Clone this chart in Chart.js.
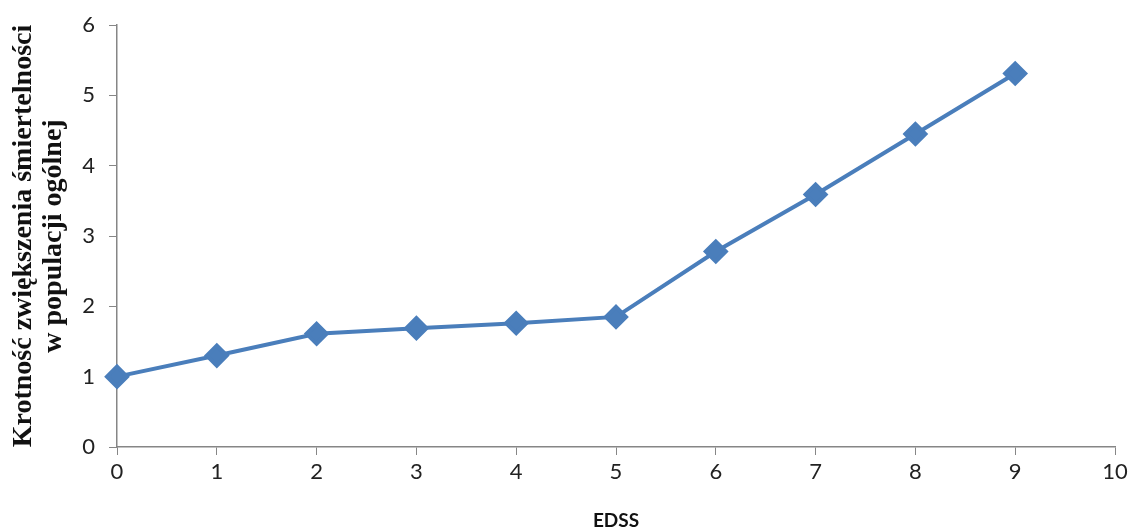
<!DOCTYPE html>
<html>
<head>
<meta charset="utf-8">
<script src="https://cdn.jsdelivr.net/npm/chart.js@4"></script>
<style>
  body { margin: 0; background: #fff; }
  #wrap { width: 1134px; height: 532px; }
</style>
</head>
<body>
<div id="wrap"><canvas id="wykres"></canvas></div>
<script>
// Dane
const edss = [0, 1, 2, 3, 4, 5, 6, 7, 8, 9];
const krotnosc = [1.0, 1.3, 1.61, 1.69, 1.76, 1.85, 2.78, 3.59, 4.45, 5.31];
const tytulY = ['Krotność zwiększenia śmiertelności', 'w populacji ogólnej'];
const tytulX = 'EDSS';

const punkty = edss.map((x, i) => ({ x: x, y: krotnosc[i] }));
const szary = '#868686';

new Chart(document.getElementById('wykres').getContext('2d'), {
    type: 'line',
    data: {
        datasets: [{
            data: punkty,
            borderColor: '#4a7ebb',
            backgroundColor: '#4a7ebb',
            borderWidth: 4,
            pointStyle: 'rectRot',
            pointRadius: 10,
            pointHoverRadius: 10,
            tension: 0,
            clip: false
        }]
    },
    options: {
        responsive: true,
        maintainAspectRatio: false,
        animation: false,
        layout: { padding: { top: 24, right: 19, left: 0, bottom: 0 } },
        plugins: {
            legend: { display: false },
            tooltip: { enabled: false }
        },
        scales: {
            x: {
                type: 'linear',
                min: 0,
                max: 10,
                ticks: { stepSize: 1, color: '#222', padding: 6, font: { family: 'Lato', size: 22, lineHeight: 1 } },
                grid: { drawOnChartArea: false, color: szary, tickLength: 8 },
                border: { color: szary, width: 1.5 },
                title: {
                    display: true,
                    text: tytulX,
                    color: '#111',
                    font: { family: 'Lato', size: 19, weight: 'bold' },
                    padding: { top: 4, bottom: 0 }
                },
                afterFit: s => { s.height = 85; }
            },
            y: {
                min: 0,
                max: 6,
                ticks: { stepSize: 1, color: '#222', padding: 14, font: { family: 'Lato', size: 22, lineHeight: 1 } },
                grid: { drawOnChartArea: false, color: szary, tickLength: 8 },
                border: { color: szary, width: 1.5 },
                title: {
                    display: true,
                    text: tytulY,
                    color: '#111',
                    font: { family: 'Liberation Serif', size: 28, weight: 'bold', lineHeight: 1.1 },
                    padding: { top: 8, bottom: 0 }
                },
                afterFit: s => { s.width = 117; }
            }
        }
    }
});
</script>
</body>
</html>
